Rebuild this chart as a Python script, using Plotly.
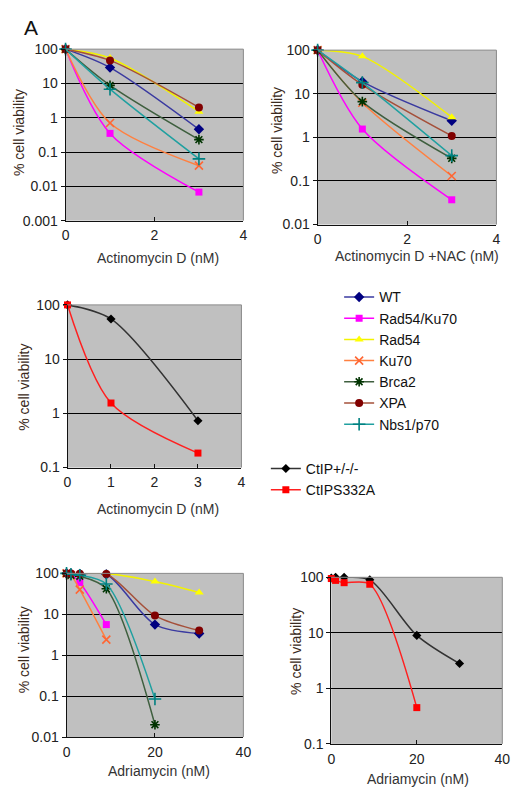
import plotly.graph_objects as go

# ---- data -------------------------------------------------------------
series_names = ["WT", "Rad54/Ku70", "Rad54", "Ku70", "Brca2", "XPA", "Nbs1/p70"]
ctip_names = ["CtIP+/-/-", "CtIPS332A"]

dose_actd = [0, 1, 3]

# Actinomycin D
actd_wt = [100, 29, 0.46]
actd_rad54ku70 = [100, 0.35, 0.0068]
actd_rad54 = [100, 55, 1.5]
actd_ku70 = [100, 0.7, 0.04]
actd_brca2 = [100, 8.8, 0.23]
actd_xpa = [100, 47, 2.0]
actd_nbs1 = [100, 6.8, 0.063]

# Actinomycin D + NAC
nac_wt = [100, 19, 2.4]
nac_rad54ku70 = [100, 1.55, 0.037]
nac_rad54 = [100, 72, 2.9]
nac_ku70 = [100, 6.2, 0.13]
nac_brca2 = [100, 6.6, 0.33]
nac_xpa = [100, 16, 1.08]
nac_nbs1 = [100, 18, 0.38]

# CtIP lines, Actinomycin D
ctip_actd = [100, 55, 0.73]
s332a_actd = [100, 1.55, 0.185]

# Adriamycin
adr_dose_full = [0, 1, 3, 9, 20, 30]
adr_dose_short = [0, 1, 3, 9]
adr_dose_mid = [0, 1, 3, 9, 20]
adr_wt = [100, 98, 97, 95, 5.6, 3.4]
adr_rad54ku70 = [100, 95, 60, 5.6]
adr_rad54 = [100, 100, 100, 100, 63, 34]
adr_ku70 = [100, 90, 40, 2.4]
adr_brca2 = [100, 90, 85, 42, 0.02]
adr_xpa = [100, 100, 98, 97, 9.3, 4.0]
adr_nbs1 = [100, 95, 90, 55, 0.085]

adr_ctip = [97, 100, 100, 90, 9.0, 2.8]
adr_s332a = [95, 88, 80, 75, 0.45]

log_tickvals = [0.001, 0.01, 0.1, 1, 10, 100]
log_ticktext = ["0.001", "0.01", "0.1", "1", "10", "100"]

# ---- styles -----------------------------------------------------------
W, H = 523, 795
FONT = "Liberation Sans, Arial, sans-serif"
TICK_COLOR = "#222222"
TITLE_COLOR = "#3a2a20"

styles = {
    "WT": dict(symbol="diamond", mcolor="#000080", lcolor="#3a3aa0", size=8),
    "Rad54/Ku70": dict(symbol="square", mcolor="#ff00ff", lcolor="#ff00ff", size=7),
    "Rad54": dict(symbol="triangle-up", mcolor="#ffff00", lcolor="#f2f200", size=8),
    "Ku70": dict(symbol="x-thin-open", mcolor="#ff6633", lcolor="#ff8040", size=8),
    "Brca2": dict(symbol="asterisk-open", mcolor="#003300", lcolor="#3f5f3f", size=8),
    "XPA": dict(symbol="circle", mcolor="#800000", lcolor="#a5503a", size=8),
    "Nbs1/p70": dict(symbol="cross-thin-open", mcolor="#008080", lcolor="#20a0a0", size=9),
    "CtIP+/-/-": dict(symbol="diamond", mcolor="#000000", lcolor="#333333", size=7),
    "CtIPS332A": dict(symbol="square", mcolor="#ff0000", lcolor="#ff2020", size=7),
}

fig = go.Figure()


def px_dom_x(a, b):
    return [a / W, b / W]


def px_dom_y(top, bottom):
    return [1 - bottom / H, 1 - top / H]


def add_series(name, x, y, xa, ya, showlegend=False, legend="legend"):
    st = styles[name]
    open_sym = st["symbol"].endswith("open")
    fig.add_trace(go.Scatter(
        x=x, y=y, name=name, xaxis=xa, yaxis=ya,
        mode="lines+markers",
        line=dict(color=st["lcolor"], width=1.5, shape="spline", smoothing=0.85),
        marker=dict(symbol=st["symbol"], size=st["size"], color=st["mcolor"],
                    line=dict(color=st["mcolor"], width=1.6 if open_sym else 0)),
        showlegend=showlegend, legend=legend, legendgroup=name,
        cliponaxis=False,
    ))


panels = [
    # (axis suffix, (left, right, top, bottom) px, x range, x dtick, y log range)
    ("", (63, 245, 42, 217), [0, 4], 2, [-3, 2]),
    ("2", (321, 504, 43, 221), [0, 4], 2, [-2, 2]),
    ("3", (65, 243, 303, 469), [0, 4], 1, [-1, 2]),
    ("4", (64, 245, 577, 744), [0, 40], 20, [-2, 2]),
    ("5", (335, 510, 581, 751), [0, 40], 20, [-1, 2]),
]

layout_axes = {}
shapes = []
for sfx, (l, r, t, b), xr, xdt, yr in panels:
    layout_axes["xaxis" + sfx] = dict(
        domain=px_dom_x(l, r), range=xr, dtick=xdt, tick0=0,
        anchor="y" + sfx, showgrid=False, zeroline=False,
        showline=True, linecolor="#111111", linewidth=1,
        ticks="inside", ticklen=4, tickcolor="#111111",
        tickfont=dict(family=FONT, size=14, color=TICK_COLOR),
        ticklabelstandoff=2,
    )
    layout_axes["yaxis" + sfx] = dict(
        domain=px_dom_y(t, b), type="log", range=yr,
        tickvals=log_tickvals, ticktext=log_ticktext,
        anchor="x" + sfx, showgrid=True, gridcolor="#000000", gridwidth=1,
        zeroline=False, showline=True, linecolor="#111111", linewidth=1,
        ticks="outside", ticklen=4, tickcolor="#111111",
        tickfont=dict(family=FONT, size=14, color=TICK_COLOR),
    )
    xa = "x" + sfx
    ya = "y" + sfx
    # grey frame on the top and right edges
    shapes.append(dict(type="line", xref=xa + " domain", yref=ya + " domain",
                       x0=0, x1=1, y0=1, y1=1, line=dict(color="#8a8a8a", width=1),
                       layer="above"))
    shapes.append(dict(type="line", xref=xa + " domain", yref=ya + " domain",
                       x0=1, x1=1, y0=0, y1=1, line=dict(color="#8a8a8a", width=1),
                       layer="above"))

# panel 1: Actinomycin D
p1 = [actd_wt, actd_rad54ku70, actd_rad54, actd_ku70, actd_brca2, actd_xpa, actd_nbs1]
for name, ys in zip(series_names, p1):
    add_series(name, dose_actd, ys, "x", "y", showlegend=True, legend="legend")

# panel 2: Actinomycin D + NAC
p2 = [nac_wt, nac_rad54ku70, nac_rad54, nac_ku70, nac_brca2, nac_xpa, nac_nbs1]
for name, ys in zip(series_names, p2):
    add_series(name, dose_actd, ys, "x2", "y2")

# panel 3: CtIP, Actinomycin D
for name, ys in zip(ctip_names, [ctip_actd, s332a_actd]):
    add_series(name, dose_actd, ys, "x3", "y3", showlegend=True, legend="legend2")

# panel 4: Adriamycin
p4 = [
    ("WT", adr_dose_full, adr_wt),
    ("Rad54/Ku70", adr_dose_short, adr_rad54ku70),
    ("Rad54", adr_dose_full, adr_rad54),
    ("Ku70", adr_dose_short, adr_ku70),
    ("Brca2", adr_dose_mid, adr_brca2),
    ("XPA", adr_dose_full, adr_xpa),
    ("Nbs1/p70", adr_dose_mid, adr_nbs1),
]
for name, xs, ys in p4:
    add_series(name, xs, ys, "x4", "y4")

# panel 5: CtIP, Adriamycin
add_series("CtIP+/-/-", adr_dose_full, adr_ctip, "x5", "y5")
add_series("CtIPS332A", adr_dose_mid, adr_s332a, "x5", "y5")

# axis titles
annotations = []
ytitles = [(16, 127), (280, 125), (21, 387), (20, 655), (299, 657)]
for (cx, cy) in ytitles:
    annotations.append(dict(text="% cell viability", x=cx / W, y=1 - cy / H,
                            xref="paper", yref="paper", showarrow=False,
                            textangle=-90, xanchor="center", yanchor="middle",
                            font=dict(family=FONT, size=14, color=TITLE_COLOR)))
xtitles = [
    ("Actinomycin D (nM)", 158, 255),
    ("Actinomycin D +NAC (nM)", 423, 253),
    ("Actinomycin D (nM)", 158, 511),
    ("Adriamycin (nM)", 159, 779),
    ("Adriamycin (nM)", 424, 787),
]
for text, cx, cy in xtitles:
    annotations.append(dict(text=text, x=cx / W, y=1 - cy / H,
                            xref="paper", yref="paper", showarrow=False,
                            xanchor="center", yanchor="middle",
                            font=dict(family=FONT, size=14, color="#333333")))
annotations.append(dict(text="A", x=18 / W, y=1 - 20 / H, xref="paper", yref="paper",
                        showarrow=False, xanchor="left", yanchor="middle",
                        font=dict(family=FONT, size=21, color="#111111")))

fig.update_layout(
    width=W, height=H,
    margin=dict(l=0, r=0, t=0, b=0),
    paper_bgcolor="white",
    plot_bgcolor="#c0c0c0",
    showlegend=True,
    legend=dict(x=343 / W, y=1 - 279 / H, xanchor="left", yanchor="top",
                bgcolor="rgba(0,0,0,0)", font=dict(family=FONT, size=14, color="#111111"),
                tracegroupgap=0, itemsizing="trace"),
    legend2=dict(x=268 / W, y=1 - 454 / H, xanchor="left", yanchor="top",
                 bgcolor="rgba(0,0,0,0)", font=dict(family=FONT, size=14, color="#111111"),
                 tracegroupgap=0, itemsizing="trace"),
    shapes=shapes,
    annotations=annotations,
    **layout_axes,
)

fig.write_html("out.html")
